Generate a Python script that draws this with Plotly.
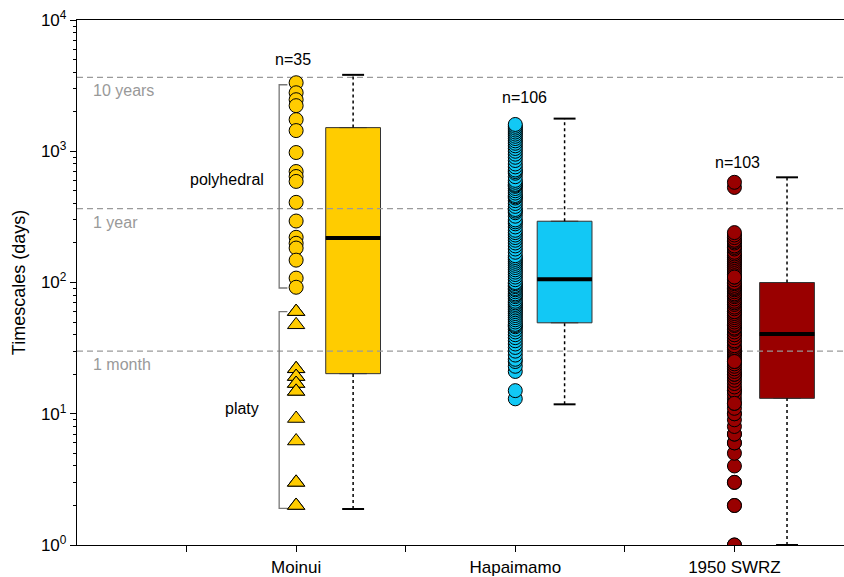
import math
import plotly.graph_objects as go

# ---------------- data ----------------
categories = ["Moinui", "Hapaimamo", "1950 SWRZ"]
cat_pos = [2, 4, 6]
box_pos = [2.52, 4.45, 6.48]
counts = ["n=35", "n=106", "n=103"]
count_y = [4970, 2560, 820]
count_x = [1.97, 4.08, 6.03]

moinui_polyhedral = [3326, 2790, 2470, 2225, 1741, 1437, 978, 701, 642, 589,
                     408, 294, 221, 199, 183, 148, 108, 92]
moinui_platy = [60, 60, 47.6, 22, 22, 19.2, 19.2, 17, 17, 14.8, 14.8, 9.2,
                6.2, 3.0, 3.0, 2.0, 2.0]
hapaimamo = [13, 15, 21, 23, 25, 26, 28, 30, 32, 34,
             36, 38, 40, 42, 44, 46, 47, 48, 50, 52,
             54, 56, 58, 60, 62, 64, 66, 68, 70, 72,
             75, 78, 80, 82, 85, 88, 90, 93, 95, 98,
             100, 105, 110, 115, 120, 125, 130, 135, 140, 145,
             150, 155, 160, 170, 180, 190, 200, 210, 220, 230,
             240, 250, 265, 280, 290, 300, 320, 340, 350, 360,
             380, 400, 420, 440, 450, 460, 480, 500, 520, 540,
             550, 560, 580, 600, 640, 680, 700, 720, 760, 800,
             850, 900, 950, 1000, 1050, 1100, 1150, 1200, 1250, 1300,
             1350, 1400, 1450, 1500, 1550, 1600]
swrz = [1, 1, 2, 2, 3, 3, 4, 5, 6, 6,
        7, 7, 8, 9, 10, 10, 11, 12, 13, 14,
        15, 15, 16, 17, 18, 19, 20, 20, 21, 22,
        23, 24, 25, 26, 27, 28, 29, 30, 30, 31,
        32, 33, 35, 36, 38, 40, 40, 42, 44, 45,
        47, 48, 50, 52, 54, 56, 58, 60, 60, 63,
        65, 68, 70, 72, 75, 78, 80, 82, 85, 88,
        90, 92, 95, 98, 100, 105, 110, 115, 120, 125,
        130, 135, 140, 145, 150, 155, 160, 165, 170, 180,
        185, 190, 200, 205, 210, 220, 230, 240, 530, 580,
        12, 25, 110]

box_q1 = [20.2, 49.3, 13.1]
box_median = [218, 106, 40.6]
box_q3 = [1514, 293, 100]
whisker_low = [1.88, 11.8, 1.0]
whisker_high = [3820, 1773, 633]
colors = ["#FFCC00", "#12C8F5", "#990000"]

ref_values = [3650, 365, 30]
ref_labels = ["10 years", "1 year", "1 month"]

groups_bracket = ["polyhedral", "platy"]
bracket_top = [3212, 60]
bracket_bottom = [90.8, 1.9]
bracket_label_x = [1.37, 1.51]
bracket_label_y = [611, 11]

y_tick_vals = [1, 10, 100, 1000, 10000]
y_tick_text = ["10<sup>0</sup>", "10<sup>1</sup>", "10<sup>2</sup>",
               "10<sup>3</sup>", "10<sup>4</sup>"]
y_minor_vals = [m * d for d in (1, 10, 100, 1000) for m in range(2, 10)]

# ---------------- figure ----------------
FONT = "Arial, Liberation Sans, sans-serif"
fig = go.Figure()

# reference dashed lines
for v in ref_values:
    fig.add_trace(go.Scatter(x=[0, 7], y=[v, v], mode="lines",
                             line=dict(color="#9a9a9a", width=1.2, dash="6px,4px"),
                             hoverinfo="skip", showlegend=False))

# boxes
for i in range(3):
    fig.add_trace(go.Box(x=[box_pos[i]], q1=[box_q1[i]], median=[box_median[i]],
                         q3=[box_q3[i]], lowerfence=[box_q1[i]], upperfence=[box_q3[i]],
                         width=0.5, fillcolor=colors[i],
                         line=dict(color="#333333", width=1),
                         boxpoints=False, showlegend=False))
    fig.add_trace(go.Scatter(x=[box_pos[i] - 0.25, box_pos[i] + 0.25],
                             y=[box_median[i], box_median[i]], mode="lines",
                             line=dict(color="black", width=4), showlegend=False))
    fig.add_trace(go.Scatter(x=[box_pos[i], box_pos[i]], y=[box_q3[i], whisker_high[i]],
                             mode="lines", line=dict(color="black", width=1.5, dash="dot"),
                             showlegend=False))
    fig.add_trace(go.Scatter(x=[box_pos[i], box_pos[i]], y=[whisker_low[i], box_q1[i]],
                             mode="lines", line=dict(color="black", width=1.5, dash="dot"),
                             showlegend=False))
    for w in (whisker_high[i], whisker_low[i]):
        fig.add_trace(go.Scatter(x=[box_pos[i] - 0.1, box_pos[i] + 0.1], y=[w, w],
                                 mode="lines", line=dict(color="black", width=2),
                                 showlegend=False))

# brackets
for i in range(2):
    fig.add_trace(go.Scatter(x=[1.92, 1.845, 1.845, 1.92],
                             y=[bracket_top[i], bracket_top[i], bracket_bottom[i], bracket_bottom[i]],
                             mode="lines", line=dict(color="#777777", width=1.3),
                             showlegend=False))

# points
mk_line = dict(color="black", width=1)
fig.add_trace(go.Scatter(x=[cat_pos[0]] * len(moinui_polyhedral), y=moinui_polyhedral,
                         mode="markers", marker=dict(symbol="circle", size=14,
                         color=colors[0], line=mk_line), showlegend=False))
fig.add_trace(go.Scatter(x=[cat_pos[0]] * len(moinui_platy), y=moinui_platy,
                         mode="markers", marker=dict(symbol="triangle-up", size=15,
                         color=colors[0], line=mk_line), showlegend=False))
fig.add_trace(go.Scatter(x=[cat_pos[1]] * len(hapaimamo), y=hapaimamo,
                         mode="markers", marker=dict(symbol="circle", size=14,
                         color=colors[1], line=mk_line), showlegend=False))
fig.add_trace(go.Scatter(x=[cat_pos[2]] * len(swrz), y=swrz,
                         mode="markers", marker=dict(symbol="circle", size=14,
                         color=colors[2], line=mk_line), showlegend=False))

annotations = []
for i in range(3):
    annotations.append(dict(x=count_x[i], y=math.log10(count_y[i]), text=counts[i],
                            showarrow=False, font=dict(size=16, color="black", family=FONT)))
for v, t in zip(ref_values, ref_labels):
    annotations.append(dict(x=0.018, xref="paper", y=math.log10(v), yanchor="top",
                            xanchor="left", text=t, showarrow=False, yshift=-3,
                            font=dict(size=16, color="#999999", family=FONT)))
for i in range(2):
    annotations.append(dict(x=bracket_label_x[i], y=math.log10(bracket_label_y[i]),
                            text=groups_bracket[i], showarrow=False,
                            font=dict(size=16, color="black", family=FONT)))

fig.update_layout(
    width=844, height=577,
    margin=dict(l=77, r=0, t=20, b=30),
    plot_bgcolor="white", paper_bgcolor="white",
    font=dict(family=FONT, color="black", size=16),
    annotations=annotations,
    xaxis=dict(range=[0, 7], tickvals=[1, 2, 3, 4, 5, 6],
               ticktext=["", categories[0], "", categories[1], "", categories[2]],
               ticks="outside", ticklen=6, tickcolor="black", showgrid=False,
               zeroline=False, showline=True, linecolor="black", linewidth=1.3,
               mirror=True, tickfont=dict(size=17)),
    yaxis=dict(type="log", range=[0, 4], tickvals=y_tick_vals, ticktext=y_tick_text,
               ticks="outside", ticklen=6, tickcolor="black", showgrid=False,
               zeroline=False, showline=True, linecolor="black", linewidth=1.3,
               minor=dict(tickvals=y_minor_vals, ticks="outside", ticklen=3,
                          tickcolor="black", showgrid=False),
               title=dict(text="Timescales (days)", font=dict(size=18), standoff=10),
               tickfont=dict(size=17)),
)

fig.write_html("out.html", config={"displayModeBar": False},
               post_script="document.body.style.margin='0';")
